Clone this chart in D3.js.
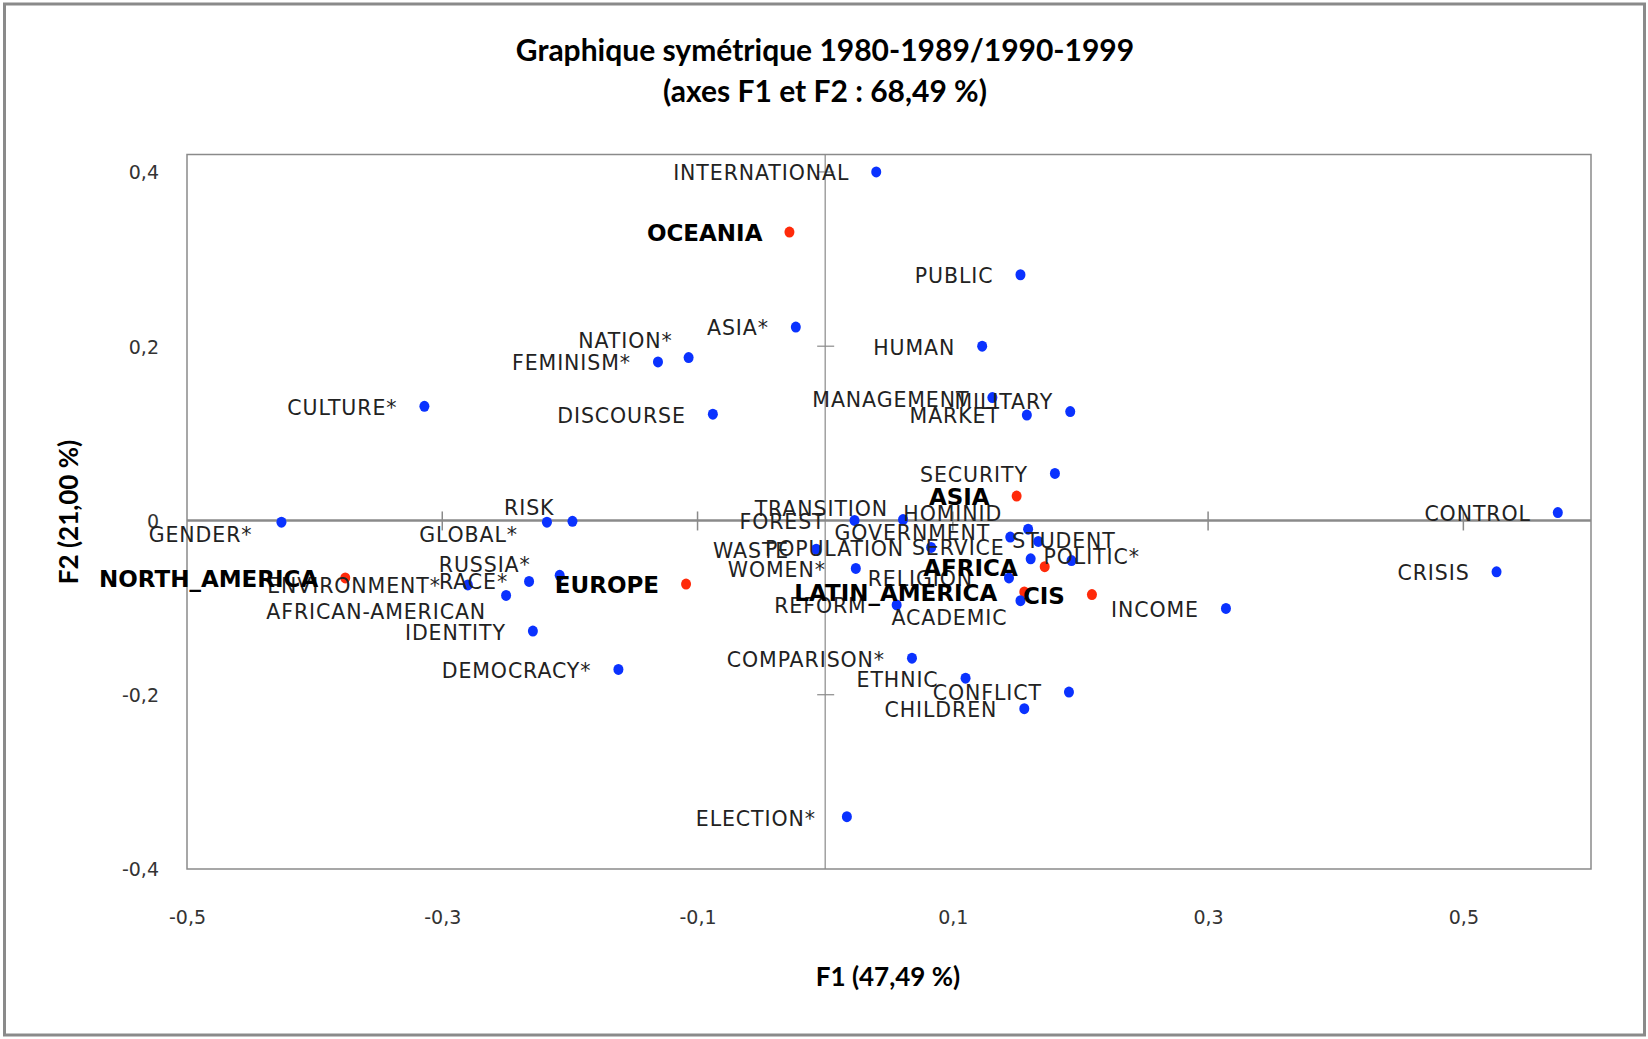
<!DOCTYPE html>
<html>
<head>
<meta charset="utf-8">
<script src="https://cdn.jsdelivr.net/npm/d3@7"></script>
<style>
  body { margin: 0; background: #fff; }
  svg text { font-family: "DejaVu Sans", sans-serif; }
</style>
</head>
<body>
<svg id="chart" width="1648" height="1039"></svg>
<script>
// Column points (keywords) - blue series
var wordNames = ['INTERNATIONAL', 'PUBLIC', 'ASIA*', 'HUMAN', 'NATION*', 'FEMINISM*', 'CULTURE*', 'DISCOURSE',
  'MANAGEMENT', 'MARKET', 'MILITARY', 'SECURITY', 'CONTROL', 'GENDER*', 'GLOBAL*', 'RISK', 'FOREST',
  'TRANSITION', 'HOMINID', 'GOVERNMENT', 'STUDENT', 'WASTE', 'POPULATION', 'SERVICE', 'POLITIC*', 'WOMEN*',
  'RELIGION', 'REFORM', 'ACADEMIC', 'INCOME', 'CRISIS', 'ENVIRONMENT*', 'RACE*', 'RUSSIA*',
  'AFRICAN-AMERICAN', 'IDENTITY', 'DEMOCRACY*', 'COMPARISON*', 'ETHNIC', 'CONFLICT', 'CHILDREN', 'ELECTION*'];
var wordF1 = [0.040, 0.153, -0.023, 0.123, -0.107, -0.131, -0.314, -0.088,
  0.131, 0.158, 0.192, 0.180, 0.574, -0.426, -0.218, -0.198, 0.023,
  0.061, 0.159, 0.145, 0.167, -0.007, 0.083, 0.161, 0.193, 0.024,
  0.144, 0.056, 0.153, 0.314, 0.526, -0.280, -0.232, -0.208,
  -0.250, -0.229, -0.162, 0.068, 0.110, 0.191, 0.156, 0.017];
var wordF2 = [0.400, 0.282, 0.222, 0.200, 0.187, 0.182, 0.131, 0.122,
  0.141, 0.121, 0.125, 0.054, 0.009, -0.002, -0.002, -0.001, 0.000,
  0.001, -0.010, -0.019, -0.024, -0.033, -0.031, -0.044, -0.046, -0.055,
  -0.066, -0.097, -0.092, -0.101, -0.059, -0.074, -0.070, -0.063,
  -0.086, -0.127, -0.171, -0.158, -0.181, -0.197, -0.216, -0.340];

// Row points (regions) - red series
var regionNames = ['OCEANIA', 'ASIA', 'NORTH_AMERICA', 'EUROPE', 'AFRICA', 'LATIN_AMERICA', 'CIS'];
var regionF1 = [-0.028, 0.150, -0.376, -0.109, 0.172, 0.156, 0.209];
var regionF2 = [0.331, 0.028, -0.066, -0.073, -0.053, -0.082, -0.085];

var xTicks = [-0.5, -0.3, -0.1, 0.1, 0.3, 0.5];
var yTicks = [-0.4, -0.2, 0, 0.2, 0.4];
var xMarks = [-0.3, -0.1, 0.1, 0.3, 0.5];
var yMarks = [-0.2, 0.2, 0.4];

// Hand-placed labels (dragged in the original chart)
var labelNudge = {
  'NATION*': { dx: -16, dy: -17 },
  'MANAGEMENT': { dx: -23, dy: 2 },
  'MILITARY': { dx: -17, dy: -10 },
  'GENDER*': { dx: -29, dy: 12 },
  'GLOBAL*': { dx: -29, dy: 12 },
  'RISK': { dx: -18, dy: -14 },
  'RACE*': { dx: -21, dy: 0 },
  'RUSSIA*': { dx: -29, dy: -11 },
  'AFRICAN-AMERICAN': { dx: -20, dy: 16 },
  'FOREST': { dx: -29, dy: 1 },
  'TRANSITION': { dx: -15, dy: -11 },
  'HOMINID': { dx: -26, dy: -16 },
  'GOVERNMENT': { dx: -20, dy: -4 },
  'STUDENT': { dx: -26, dy: -1, anchor: 'start' },
  'SERVICE': { dx: -26, dy: -11 },
  'POLITIC*': { dx: -28, dy: -4, anchor: 'start' },
  'RELIGION': { dx: -36, dy: 1 },
  'REFORM': { dx: -30, dy: 1 },
  'ACADEMIC': { dx: -13, dy: 17 },
  'WOMEN*': { dx: -30, dy: 1 },
  'ELECTION*': { dx: -31, dy: 2 }
};

var svg = d3.select('#chart');
var plot = { left: 187, right: 1591, top: 154.5, bottom: 869 };

var x = d3.scaleLinear().domain([-0.5, 0.6]).range([plot.left, plot.right]);
var y = d3.scaleLinear().domain([-0.4, 0.42]).range([plot.bottom, plot.top]);

var fr = d3.formatLocale({ decimal: ',', thousands: ' ', grouping: [3], currency: ['', ''], minus: '-' });
var fmt = function (v) { return v === 0 ? '0' : fr.format('.1f')(v); };

// outer frame
svg.append('rect')
  .attr('x', 4.5).attr('y', 4).attr('width', 1640).attr('height', 1031)
  .attr('fill', '#fff').attr('stroke', '#8a8a8a').attr('stroke-width', 3);

// plot area border
svg.append('rect')
  .attr('x', plot.left).attr('y', plot.top)
  .attr('width', plot.right - plot.left).attr('height', plot.bottom - plot.top)
  .attr('fill', 'none').attr('stroke', '#8a8a8a').attr('stroke-width', 1.5);

// zero axes
svg.append('line')
  .attr('x1', plot.left).attr('x2', plot.right)
  .attr('y1', y(0)).attr('y2', y(0))
  .attr('stroke', '#8a8a8a').attr('stroke-width', 2.5);
svg.append('line')
  .attr('x1', x(0)).attr('x2', x(0))
  .attr('y1', plot.top).attr('y2', plot.bottom)
  .attr('stroke', '#8a8a8a').attr('stroke-width', 1.2);

// cross tick marks on the zero axes
svg.append('g').selectAll('line').data(xMarks).enter().append('line')
  .attr('x1', function (d) { return x(d); }).attr('x2', function (d) { return x(d); })
  .attr('y1', y(0) - 9).attr('y2', y(0) + 10)
  .attr('stroke', '#8a8a8a').attr('stroke-width', 1.5);
svg.append('g').selectAll('line').data(yMarks).enter().append('line')
  .attr('x1', x(0) - 8).attr('x2', x(0) + 9)
  .attr('y1', function (d) { return y(d); }).attr('y2', function (d) { return y(d); })
  .attr('stroke', '#8a8a8a').attr('stroke-width', 1.2);

// tick labels (low position, outside the plot)
var xAxis = svg.append('g')
  .attr('transform', 'translate(0,' + (plot.bottom + 52) + ')')
  .call(d3.axisBottom(x).tickValues(xTicks).tickSize(0).tickFormat(fmt));
var yAxis = svg.append('g')
  .attr('transform', 'translate(' + (plot.left - 28) + ',0)')
  .call(d3.axisLeft(y).tickValues(yTicks).tickSize(0).tickFormat(fmt));
[xAxis, yAxis].forEach(function (ax) {
  ax.select('.domain').remove();
  ax.selectAll('text')
    .style('font-family', '"DejaVu Sans", sans-serif')
    .style('font-size', '19px')
    .attr('fill', '#333');
});
xAxis.selectAll('text').attr('dy', '0');
yAxis.selectAll('text').attr('dy', '0.36em').attr('x', 0);

// titles
var bold = function (sel, size) {
  return sel.style('font-family', 'Lato, sans-serif').style('font-weight', 'bold').style('font-size', size);
};
bold(svg.append('text'), '30px')
  .attr('x', 825).attr('y', 61).attr('text-anchor', 'middle')
  .text('Graphique symétrique 1980-1989/1990-1999');
bold(svg.append('text'), '30px')
  .attr('x', 825).attr('y', 102).attr('text-anchor', 'middle')
  .text('(axes F1 et F2 : 68,49 %)');
bold(svg.append('text'), '26px')
  .attr('x', 888).attr('y', 986).attr('text-anchor', 'middle')
  .text('F1 (47,49 %)');
bold(svg.append('text'), '26px')
  .attr('transform', 'translate(78,512) rotate(-90)').attr('text-anchor', 'middle')
  .text('F2 (21,00 %)');

// build point tables from the arrays
var words = wordNames.map(function (n, i) { return { name: n, f1: wordF1[i], f2: wordF2[i], bold: false }; });
var regions = regionNames.map(function (n, i) { return { name: n, f1: regionF1[i], f2: regionF2[i], bold: true }; });

svg.append('g').selectAll('ellipse').data(regions).enter().append('ellipse')
  .attr('cx', function (d) { return x(d.f1); })
  .attr('cy', function (d) { return y(d.f2); })
  .attr('rx', 5).attr('ry', 5.5)
  .attr('fill', '#ff2a0a');

svg.append('g').selectAll('ellipse').data(words).enter().append('ellipse')
  .attr('cx', function (d) { return x(d.f1); })
  .attr('cy', function (d) { return y(d.f2); })
  .attr('rx', 5).attr('ry', 5.5)
  .attr('fill', '#0a32ff');

// point labels
svg.append('g').selectAll('text').data(words.concat(regions)).enter().append('text')
  .attr('x', function (d) {
    var n = labelNudge[d.name] || { dx: -27 };
    return x(d.f1) + n.dx;
  })
  .attr('y', function (d) {
    var n = labelNudge[d.name] || { dy: 1 };
    return y(d.f2) + (n.dy === undefined ? 1 : n.dy);
  })
  .attr('dy', '0.36em')
  .attr('text-anchor', function (d) {
    var n = labelNudge[d.name];
    return n && n.anchor ? n.anchor : 'end';
  })
  .style('font-size', function (d) { return d.bold ? '23px' : '20.5px'; })
  .style('font-weight', function (d) { return d.bold ? 'bold' : 'normal'; })
  .style('letter-spacing', function (d) { return d.bold ? '0' : '0.9px'; })
  .attr('fill', function (d) { return d.bold ? '#000' : '#222'; })
  .text(function (d) { return d.name; });
</script>
</body>
</html>
